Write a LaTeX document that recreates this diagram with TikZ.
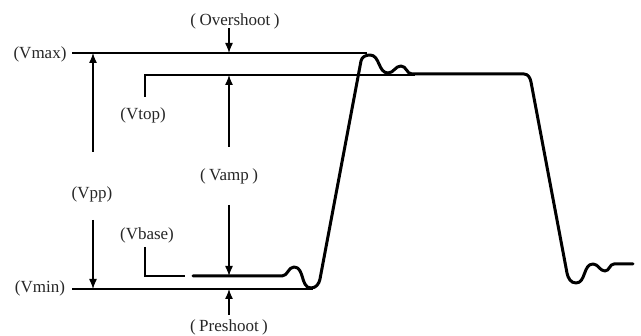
\documentclass[tikz,border=0pt]{standalone}
\usepackage{fontspec}
\setmainfont{Liberation Serif}
\usetikzlibrary{arrows.meta}

\newcommand{\widepar}[1]{(\kern3.5pt#1\kern3.5pt)}

\begin{document}
\begin{tikzpicture}[x=1pt,y=1pt,
    lbl/.style={font=\fontsize{17}{20}\selectfont, text=black!85, inner sep=1pt},
    dimarrow/.style={-{Latex[length=10pt,width=8pt]}, line width=1.3pt},
    level/.style={line width=2pt},
    thinlevel/.style={line width=1.3pt},
    wave/.style={line width=3pt, line join=round, line cap=round}]
\useasboundingbox (0,0) rectangle (641,336);

% level lines
\coordinate (maxL) at (72,283);
\coordinate (maxR) at (367,283);
\coordinate (topL) at (145,261);
\coordinate (topR) at (415,261);
\coordinate (topT) at (145,239);
\coordinate (minL) at (72,47);
\coordinate (minR) at (313,47);
\coordinate (baseT) at (145,89);
\coordinate (baseL) at (145,60);
\coordinate (baseR) at (185,60);
\draw[level] (maxL) -- (maxR);
\draw[thinlevel] (topT) -- (topL) -- (topR);
\draw[level] (minL) -- (minR);
\draw[thinlevel] (baseT) -- (baseL) -- (baseR);

% labels
\node[lbl] (vmax) at (40,282) {(Vmax)};
\node[lbl] (vmin) at (40,48) {(Vmin)};
\node[lbl] (vtop) at (143,221) {(Vtop)};
\node[lbl] (vbase) at (147,101) {(Vbase)};
\node[lbl] (vpp) at (92,142) {(Vpp)};
\node[lbl] (vamp) at (229,160) {\widepar{Vamp}};
\node[lbl] (over) at (235,315) {\widepar{Overshoot}};
\node[lbl] (pre) at (229,9) {\widepar{Preshoot}};

% arrows
\coordinate (ppUp) at (93,184);
\coordinate (ppDn) at (93,116);
\coordinate (ampUp) at (229,189);
\coordinate (ampDn) at (229,131);
\coordinate (overS) at (229,308);
\coordinate (preS) at (229,21);
\draw[dimarrow] (ppUp) -- (ppUp |- maxL);
\draw[dimarrow] (ppDn) -- (ppDn |- minL);
\draw[dimarrow] (ampUp) -- (ampUp |- topL);
\draw[dimarrow] (ampDn) -- (ampDn |- baseL);
\draw[dimarrow] (overS) -- (overS |- maxL);
\draw[dimarrow] (preS) -- (preS |- minL);

% waveform
\draw[wave] (193,60) -- (282,60) to[out=0,in=180] (294,69)
    to[out=0,in=180] (311,48) to[out=0,in=259] (320,57) -- (361,275)
    to[out=79,in=180] (370,281) to[out=0,in=180] (388,263)
    to[out=0,in=180] (401,270) to[out=0,in=180] (412,262) -- (524,262)
    to[out=0,in=101] (531,254) -- (567,63) to[out=-79,in=180] (576,53)
    to[out=0,in=180] (593,72) to[out=0,in=180] (605,65)
    to[out=0,in=180] (614,72) -- (633,72);
\end{tikzpicture}
\end{document}
